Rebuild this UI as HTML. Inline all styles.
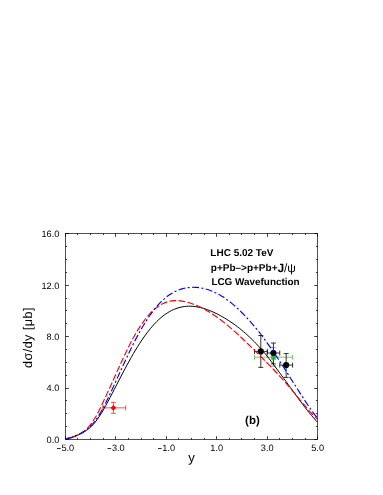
<!DOCTYPE html>
<html><head><meta charset="utf-8"><title>plot</title>
<style>html,body{margin:0;padding:0;background:#fff;}svg{display:block;will-change:transform;}text{font-family:"Liberation Sans",sans-serif;fill:#000;text-rendering:geometricPrecision;}</style>
</head><body>
<svg width="383" height="495" viewBox="0 0 383 495">
<defs><clipPath id="clip"><rect x="65.50" y="233.50" width="252.00" height="206.00"/></clipPath></defs>
<path d="M254.50,357.20H292.60M273.40,347.60V366.15M270.90,347.60h5.00M270.90,366.15h5.00M254.50,354.70v5.00M292.60,354.70v5.00" stroke="#2fb52a" stroke-width="0.70" fill="none"/>
<path d="M254.50,351.40H267.30M260.80,335.50V367.40M258.30,335.50h5.00M258.30,367.40h5.00M254.50,348.90v5.00M267.30,348.90v5.00" stroke="#000" stroke-width="0.80" fill="none"/>
<path d="M267.30,353.00H279.75M273.40,343.00V363.90M270.90,343.00h5.00M270.90,363.90h5.00M267.30,350.50v5.00M279.75,350.50v5.00" stroke="#000" stroke-width="0.80" fill="none"/>
<path d="M279.75,365.10H292.60M286.15,353.60V377.35M283.65,353.60h5.00M283.65,377.35h5.00M279.75,362.60v5.00M292.60,362.60v5.00" stroke="#000" stroke-width="0.80" fill="none"/>
<circle cx="260.80" cy="351.40" r="3.1" fill="#000"/>
<circle cx="273.40" cy="353.00" r="3.1" fill="#000"/>
<circle cx="286.15" cy="365.10" r="3.1" fill="#000"/>
<rect x="271.2" y="355.8" width="4.5" height="4.0" fill="#2fb52a"/>
<path d="M102.80,407.85H125.70M113.40,402.30V413.30M110.90,402.30h5.00M110.90,413.30h5.00M102.80,405.35v5.00M125.70,405.35v5.00" stroke="#f00" stroke-width="0.70" fill="none"/>
<path d="M113.4,404.95L116.3,407.85L113.4,410.75L110.5,407.85Z" fill="#f00"/>
<g clip-path="url(#clip)" fill="none" stroke-linecap="butt">
<path d="M65.60,439.10 C65.95,439.02 67.01,438.79 67.72,438.61 C68.43,438.44 69.13,438.25 69.84,438.04 C70.55,437.84 71.25,437.62 71.96,437.39 C72.66,437.16 73.37,436.92 74.08,436.66 C74.78,436.40 75.49,436.12 76.20,435.83 C76.90,435.54 77.61,435.24 78.32,434.92 C79.02,434.60 79.73,434.27 80.44,433.92 C81.14,433.57 81.85,433.20 82.55,432.81 C83.26,432.42 83.97,432.02 84.67,431.57 C85.38,431.13 86.09,430.67 86.79,430.16 C87.50,429.66 88.21,429.12 88.91,428.54 C89.62,427.96 90.33,427.34 91.03,426.68 C91.74,426.01 92.44,425.30 93.15,424.53 C93.86,423.76 94.56,422.94 95.27,422.06 C95.98,421.18 96.68,420.24 97.39,419.25 C98.10,418.27 98.80,417.22 99.51,416.14 C100.22,415.06 100.92,413.93 101.63,412.77 C102.34,411.61 103.04,410.40 103.75,409.17 C104.45,407.94 105.16,406.68 105.87,405.39 C106.57,404.11 107.28,402.79 107.99,401.47 C108.69,400.15 109.40,398.80 110.11,397.45 C110.81,396.10 111.52,394.73 112.23,393.37 C112.93,392.01 113.64,390.63 114.34,389.27 C115.05,387.90 115.76,386.52 116.46,385.15 C117.17,383.78 117.88,382.41 118.58,381.05 C119.29,379.68 120.00,378.32 120.70,376.96 C121.41,375.60 122.12,374.25 122.82,372.90 C123.53,371.56 124.23,370.22 124.94,368.89 C125.65,367.57 126.35,366.25 127.06,364.94 C127.77,363.64 128.47,362.34 129.18,361.07 C129.89,359.79 130.59,358.52 131.30,357.28 C132.01,356.03 132.71,354.80 133.42,353.58 C134.12,352.37 134.83,351.18 135.54,350.01 C136.24,348.83 136.95,347.68 137.66,346.55 C138.36,345.42 139.07,344.31 139.78,343.22 C140.48,342.14 141.19,341.07 141.90,340.03 C142.60,338.98 143.31,337.96 144.02,336.96 C144.72,335.96 145.43,334.99 146.13,334.03 C146.84,333.08 147.55,332.15 148.25,331.24 C148.96,330.34 149.67,329.46 150.37,328.60 C151.08,327.74 151.79,326.91 152.49,326.10 C153.20,325.29 153.91,324.51 154.61,323.75 C155.32,322.99 156.02,322.26 156.73,321.55 C157.44,320.84 158.14,320.16 158.85,319.51 C159.56,318.85 160.26,318.23 160.97,317.62 C161.68,317.02 162.38,316.45 163.09,315.90 C163.80,315.35 164.50,314.83 165.21,314.33 C165.91,313.83 166.62,313.36 167.33,312.91 C168.03,312.46 168.74,312.04 169.45,311.63 C170.15,311.23 170.86,310.86 171.57,310.51 C172.27,310.15 172.98,309.82 173.69,309.52 C174.39,309.21 175.10,308.93 175.81,308.67 C176.51,308.40 177.22,308.17 177.92,307.95 C178.63,307.73 179.34,307.53 180.04,307.36 C180.75,307.18 181.46,307.03 182.16,306.89 C182.87,306.76 183.58,306.65 184.28,306.55 C184.99,306.46 185.70,306.38 186.40,306.33 C187.11,306.27 187.81,306.23 188.52,306.22 C189.23,306.20 189.93,306.20 190.64,306.22 C191.35,306.24 192.05,306.27 192.76,306.33 C193.47,306.38 194.17,306.45 194.88,306.54 C195.59,306.62 196.29,306.73 197.00,306.85 C197.70,306.97 198.41,307.10 199.12,307.25 C199.82,307.40 200.53,307.57 201.24,307.75 C201.94,307.93 202.65,308.12 203.36,308.33 C204.06,308.54 204.77,308.76 205.48,308.99 C206.18,309.23 206.89,309.48 207.59,309.74 C208.30,310.00 209.01,310.27 209.71,310.56 C210.42,310.84 211.13,311.14 211.83,311.44 C212.54,311.75 213.25,312.07 213.95,312.40 C214.66,312.73 215.37,313.07 216.07,313.42 C216.78,313.77 217.49,314.13 218.19,314.49 C218.90,314.86 219.60,315.24 220.31,315.62 C221.02,316.01 221.72,316.40 222.43,316.81 C223.14,317.21 223.84,317.62 224.55,318.04 C225.26,318.46 225.96,318.89 226.67,319.33 C227.38,319.77 228.08,320.22 228.79,320.67 C229.49,321.13 230.20,321.60 230.91,322.08 C231.61,322.55 232.32,323.04 233.03,323.54 C233.73,324.03 234.44,324.54 235.15,325.05 C235.85,325.57 236.56,326.10 237.27,326.63 C237.97,327.17 238.68,327.72 239.38,328.28 C240.09,328.83 240.80,329.40 241.50,329.98 C242.21,330.56 242.92,331.15 243.62,331.75 C244.33,332.36 245.04,332.97 245.74,333.59 C246.45,334.22 247.16,334.85 247.86,335.50 C248.57,336.15 249.28,336.81 249.98,337.48 C250.69,338.15 251.39,338.83 252.10,339.52 C252.81,340.22 253.51,340.92 254.22,341.64 C254.93,342.36 255.63,343.09 256.34,343.84 C257.05,344.58 257.75,345.34 258.46,346.10 C259.17,346.87 259.87,347.65 260.58,348.43 C261.28,349.22 261.99,350.02 262.70,350.83 C263.40,351.64 264.11,352.44 264.82,353.29 C265.52,354.14 266.23,355.04 266.94,355.93 C267.64,356.83 268.35,357.73 269.06,358.64 C269.76,359.55 270.47,360.47 271.17,361.40 C271.88,362.33 272.59,363.26 273.29,364.20 C274.00,365.14 274.71,366.09 275.41,367.05 C276.12,368.00 276.83,368.96 277.53,369.93 C278.24,370.89 278.95,371.88 279.65,372.84 C280.36,373.80 281.06,374.75 281.77,375.70 C282.48,376.66 283.18,377.61 283.89,378.57 C284.60,379.53 285.30,380.50 286.01,381.46 C286.72,382.43 287.42,383.40 288.13,384.37 C288.84,385.35 289.54,386.32 290.25,387.30 C290.96,388.28 291.66,389.25 292.37,390.23 C293.07,391.21 293.78,392.19 294.49,393.17 C295.19,394.14 295.90,395.12 296.61,396.09 C297.31,397.06 298.02,398.03 298.73,399.00 C299.43,399.96 300.14,400.92 300.85,401.87 C301.55,402.82 302.26,403.76 302.96,404.69 C303.67,405.62 304.38,406.55 305.08,407.46 C305.79,408.38 306.50,409.28 307.20,410.18 C307.91,411.07 308.62,411.96 309.32,412.83 C310.03,413.70 310.74,414.56 311.44,415.40 C312.15,416.25 312.85,417.08 313.56,417.89 C314.27,418.71 314.97,419.51 315.68,420.29 C316.39,421.07 317.45,422.20 317.80,422.58" stroke="#000" stroke-width="1.0"/>
<path d="M65.60,439.10 C65.95,438.96 67.01,438.50 67.72,438.24 C68.43,437.98 69.13,437.77 69.84,437.55 C70.55,437.34 71.25,437.15 71.96,436.95 C72.66,436.75 73.37,436.56 74.08,436.34 C74.78,436.12 75.49,435.90 76.20,435.64 C76.90,435.38 77.61,435.09 78.32,434.79 C79.02,434.49 79.73,434.22 80.44,433.84 C81.14,433.47 81.85,433.05 82.55,432.57 C83.26,432.08 83.97,431.54 84.67,430.95 C85.38,430.36 86.09,429.73 86.79,429.02 C87.50,428.30 88.21,427.52 88.91,426.67 C89.62,425.82 90.33,424.87 91.03,423.90 C91.74,422.93 92.44,421.90 93.15,420.83 C93.86,419.76 94.56,418.64 95.27,417.47 C95.98,416.30 96.68,415.09 97.39,413.79 C98.10,412.49 98.80,411.06 99.51,409.65 C100.22,408.23 100.92,406.77 101.63,405.29 C102.34,403.81 103.04,402.27 103.75,400.75 C104.45,399.23 105.16,397.69 105.87,396.17 C106.57,394.65 107.28,393.15 107.99,391.62 C108.69,390.09 109.40,388.54 110.11,386.99 C110.81,385.44 111.52,383.87 112.23,382.30 C112.93,380.73 113.64,379.16 114.34,377.59 C115.05,376.02 115.76,374.44 116.46,372.87 C117.17,371.30 117.88,369.73 118.58,368.17 C119.29,366.61 120.00,365.05 120.70,363.51 C121.41,361.97 122.12,360.43 122.82,358.91 C123.53,357.39 124.23,355.89 124.94,354.40 C125.65,352.91 126.35,351.44 127.06,349.99 C127.77,348.54 128.47,347.11 129.18,345.70 C129.89,344.30 130.59,342.92 131.30,341.57 C132.01,340.22 132.71,338.89 133.42,337.60 C134.12,336.31 134.83,335.05 135.54,333.83 C136.24,332.60 136.95,331.41 137.66,330.26 C138.36,329.10 139.07,327.98 139.78,326.90 C140.48,325.81 141.19,324.76 141.90,323.74 C142.60,322.73 143.31,321.74 144.02,320.80 C144.72,319.85 145.43,318.93 146.13,318.05 C146.84,317.18 147.55,316.33 148.25,315.52 C148.96,314.71 149.67,313.93 150.37,313.19 C151.08,312.45 151.79,311.74 152.49,311.07 C153.20,310.39 153.91,309.75 154.61,309.15 C155.32,308.54 156.02,307.97 156.73,307.44 C157.44,306.90 158.14,306.40 158.85,305.93 C159.56,305.46 160.26,305.03 160.97,304.63 C161.68,304.23 162.38,303.86 163.09,303.52 C163.80,303.19 164.50,302.89 165.21,302.61 C165.91,302.34 166.62,302.10 167.33,301.88 C168.03,301.67 168.74,301.48 169.45,301.32 C170.15,301.17 170.86,301.04 171.57,300.93 C172.27,300.83 172.98,300.75 173.69,300.69 C174.39,300.64 175.10,300.61 175.81,300.60 C176.51,300.59 177.22,300.60 177.92,300.64 C178.63,300.67 179.34,300.73 180.04,300.81 C180.75,300.88 181.46,300.98 182.16,301.09 C182.87,301.20 183.58,301.34 184.28,301.48 C184.99,301.63 185.70,301.79 186.40,301.97 C187.11,302.15 187.81,302.35 188.52,302.55 C189.23,302.76 189.93,302.98 190.64,303.22 C191.35,303.45 192.05,303.69 192.76,303.95 C193.47,304.21 194.17,304.48 194.88,304.76 C195.59,305.04 196.29,305.33 197.00,305.63 C197.70,305.94 198.41,306.25 199.12,306.58 C199.82,306.91 200.53,307.25 201.24,307.60 C201.94,307.95 202.65,308.31 203.36,308.68 C204.06,309.05 204.77,309.43 205.48,309.82 C206.18,310.22 206.89,310.62 207.59,311.03 C208.30,311.45 209.01,311.87 209.71,312.31 C210.42,312.74 211.13,313.19 211.83,313.64 C212.54,314.10 213.25,314.56 213.95,315.04 C214.66,315.51 215.37,316.00 216.07,316.49 C216.78,316.99 217.49,317.49 218.19,318.00 C218.90,318.52 219.60,319.04 220.31,319.57 C221.02,320.10 221.72,320.64 222.43,321.19 C223.14,321.74 223.84,322.30 224.55,322.86 C225.26,323.43 225.96,324.00 226.67,324.59 C227.38,325.17 228.08,325.76 228.79,326.35 C229.49,326.95 230.20,327.55 230.91,328.16 C231.61,328.77 232.32,329.39 233.03,330.01 C233.73,330.63 234.44,331.26 235.15,331.90 C235.85,332.53 236.56,333.17 237.27,333.81 C237.97,334.46 238.68,335.11 239.38,335.76 C240.09,336.42 240.80,337.08 241.50,337.74 C242.21,338.40 242.92,339.07 243.62,339.74 C244.33,340.41 245.04,341.09 245.74,341.76 C246.45,342.44 247.16,343.12 247.86,343.81 C248.57,344.49 249.28,345.18 249.98,345.86 C250.69,346.55 251.39,347.24 252.10,347.93 C252.81,348.62 253.51,349.32 254.22,350.01 C254.93,350.71 255.63,351.40 256.34,352.10 C257.05,352.80 257.75,353.49 258.46,354.19 C259.17,354.89 259.87,355.59 260.58,356.29 C261.28,357.00 261.99,357.70 262.70,358.41 C263.40,359.12 264.11,359.83 264.82,360.54 C265.52,361.25 266.23,361.97 266.94,362.68 C267.64,363.40 268.35,364.12 269.06,364.85 C269.76,365.58 270.47,366.30 271.17,367.04 C271.88,367.77 272.59,368.51 273.29,369.25 C274.00,369.99 274.71,370.74 275.41,371.49 C276.12,372.24 276.83,372.99 277.53,373.75 C278.24,374.51 278.95,375.28 279.65,376.05 C280.36,376.82 281.06,377.60 281.77,378.38 C282.48,379.17 283.18,379.96 283.89,380.75 C284.60,381.55 285.30,382.35 286.01,383.16 C286.72,383.97 287.42,384.79 288.13,385.61 C288.84,386.43 289.54,387.27 290.25,388.10 C290.96,388.94 291.66,389.79 292.37,390.64 C293.07,391.49 293.78,392.35 294.49,393.20 C295.19,394.06 295.90,394.92 296.61,395.78 C297.31,396.64 298.02,397.50 298.73,398.35 C299.43,399.20 300.14,400.06 300.85,400.90 C301.55,401.75 302.26,402.57 302.96,403.42 C303.67,404.26 304.38,405.14 305.08,405.98 C305.79,406.82 306.50,407.66 307.20,408.48 C307.91,409.29 308.62,410.10 309.32,410.89 C310.03,411.68 310.74,412.45 311.44,413.20 C312.15,413.95 312.85,414.69 313.56,415.40 C314.27,416.11 314.97,416.80 315.68,417.47 C316.39,418.13 317.45,419.07 317.80,419.39" stroke="#f00" stroke-width="1.15" stroke-dasharray="6.8,2.3" stroke-dashoffset="2.65"/>
<path d="M65.60,439.10 C65.95,439.02 67.01,438.82 67.72,438.64 C68.43,438.47 69.13,438.27 69.84,438.05 C70.55,437.84 71.25,437.60 71.96,437.35 C72.66,437.09 73.37,436.82 74.08,436.53 C74.78,436.24 75.49,435.93 76.20,435.60 C76.90,435.28 77.61,434.94 78.32,434.59 C79.02,434.23 79.73,433.87 80.44,433.48 C81.14,433.10 81.85,432.71 82.55,432.29 C83.26,431.86 83.97,431.43 84.67,430.96 C85.38,430.48 86.09,429.99 86.79,429.45 C87.50,428.91 88.21,428.34 88.91,427.72 C89.62,427.10 90.33,426.45 91.03,425.73 C91.74,425.01 92.44,424.25 93.15,423.43 C93.86,422.60 94.56,421.72 95.27,420.77 C95.98,419.83 96.68,418.81 97.39,417.74 C98.10,416.68 98.80,415.54 99.51,414.37 C100.22,413.19 100.92,411.96 101.63,410.69 C102.34,409.42 103.04,408.10 103.75,406.75 C104.45,405.41 105.16,404.01 105.87,402.60 C106.57,401.19 107.28,399.74 107.99,398.27 C108.69,396.81 109.40,395.31 110.11,393.81 C110.81,392.31 111.52,390.78 112.23,389.25 C112.93,387.73 113.64,386.19 114.34,384.65 C115.05,383.10 115.76,381.55 116.46,380.00 C117.17,378.45 117.88,376.90 118.58,375.35 C119.29,373.79 120.00,372.24 120.70,370.69 C121.41,369.14 122.12,367.59 122.82,366.05 C123.53,364.51 124.23,362.98 124.94,361.45 C125.65,359.93 126.35,358.41 127.06,356.91 C127.77,355.41 128.47,353.91 129.18,352.44 C129.89,350.96 130.59,349.50 131.30,348.05 C132.01,346.61 132.71,345.19 133.42,343.78 C134.12,342.38 134.83,340.99 135.54,339.64 C136.24,338.28 136.95,336.94 137.66,335.63 C138.36,334.32 139.07,333.03 139.78,331.76 C140.48,330.50 141.19,329.26 141.90,328.05 C142.60,326.84 143.31,325.65 144.02,324.48 C144.72,323.32 145.43,322.19 146.13,321.08 C146.84,319.97 147.55,318.88 148.25,317.83 C148.96,316.77 149.67,315.74 150.37,314.74 C151.08,313.74 151.79,312.77 152.49,311.82 C153.20,310.88 153.91,309.96 154.61,309.08 C155.32,308.19 156.02,307.33 156.73,306.51 C157.44,305.68 158.14,304.88 158.85,304.11 C159.56,303.34 160.26,302.61 160.97,301.90 C161.68,301.19 162.38,300.52 163.09,299.87 C163.80,299.22 164.50,298.61 165.21,298.02 C165.91,297.43 166.62,296.87 167.33,296.33 C168.03,295.80 168.74,295.29 169.45,294.81 C170.15,294.33 170.86,293.88 171.57,293.45 C172.27,293.02 172.98,292.62 173.69,292.25 C174.39,291.87 175.10,291.51 175.81,291.18 C176.51,290.85 177.22,290.55 177.92,290.27 C178.63,289.98 179.34,289.72 180.04,289.48 C180.75,289.24 181.46,289.03 182.16,288.83 C182.87,288.63 183.58,288.46 184.28,288.30 C184.99,288.14 185.70,288.00 186.40,287.89 C187.11,287.77 187.81,287.67 188.52,287.59 C189.23,287.50 189.93,287.44 190.64,287.39 C191.35,287.35 192.05,287.32 192.76,287.30 C193.47,287.29 194.17,287.29 194.88,287.31 C195.59,287.34 196.29,287.37 197.00,287.43 C197.70,287.48 198.41,287.55 199.12,287.64 C199.82,287.73 200.53,287.83 201.24,287.96 C201.94,288.08 202.65,288.22 203.36,288.37 C204.06,288.53 204.77,288.70 205.48,288.89 C206.18,289.07 206.89,289.28 207.59,289.50 C208.30,289.72 209.01,289.96 209.71,290.21 C210.42,290.47 211.13,290.74 211.83,291.03 C212.54,291.31 213.25,291.62 213.95,291.94 C214.66,292.26 215.37,292.59 216.07,292.94 C216.78,293.30 217.49,293.67 218.19,294.05 C218.90,294.43 219.60,294.84 220.31,295.25 C221.02,295.67 221.72,296.10 222.43,296.55 C223.14,297.00 223.84,297.46 224.55,297.94 C225.26,298.42 225.96,298.92 226.67,299.43 C227.38,299.94 228.08,300.46 228.79,301.00 C229.49,301.54 230.20,302.10 230.91,302.67 C231.61,303.24 232.32,303.82 233.03,304.42 C233.73,305.01 234.44,305.62 235.15,306.25 C235.85,306.87 236.56,307.51 237.27,308.16 C237.97,308.81 238.68,309.48 239.38,310.15 C240.09,310.83 240.80,311.52 241.50,312.22 C242.21,312.93 242.92,313.64 243.62,314.37 C244.33,315.10 245.04,315.84 245.74,316.59 C246.45,317.34 247.16,318.10 247.86,318.88 C248.57,319.65 249.28,320.44 249.98,321.24 C250.69,322.03 251.39,322.84 252.10,323.66 C252.81,324.48 253.51,325.31 254.22,326.15 C254.93,326.99 255.63,327.84 256.34,328.71 C257.05,329.57 257.75,330.44 258.46,331.32 C259.17,332.20 259.87,333.08 260.58,333.99 C261.28,334.90 261.99,335.81 262.70,336.75 C263.40,337.69 264.11,338.66 264.82,339.63 C265.52,340.60 266.23,341.58 266.94,342.57 C267.64,343.55 268.35,344.55 269.06,345.55 C269.76,346.55 270.47,347.57 271.17,348.58 C271.88,349.60 272.59,350.63 273.29,351.66 C274.00,352.70 274.71,353.74 275.41,354.78 C276.12,355.83 276.83,356.89 277.53,357.95 C278.24,359.01 278.95,360.08 279.65,361.16 C280.36,362.24 281.06,363.32 281.77,364.42 C282.48,365.51 283.18,366.61 283.89,367.71 C284.60,368.81 285.30,369.92 286.01,371.04 C286.72,372.15 287.42,373.27 288.13,374.40 C288.84,375.52 289.54,376.66 290.25,377.77 C290.96,378.89 291.66,379.98 292.37,381.09 C293.07,382.19 293.78,383.31 294.49,384.42 C295.19,385.53 295.90,386.64 296.61,387.75 C297.31,388.85 298.02,389.96 298.73,391.07 C299.43,392.17 300.14,393.27 300.85,394.36 C301.55,395.45 302.26,396.54 302.96,397.62 C303.67,398.70 304.38,399.79 305.08,400.86 C305.79,401.93 306.50,402.99 307.20,404.04 C307.91,405.09 308.62,406.12 309.32,407.14 C310.03,408.17 310.74,409.17 311.44,410.17 C312.15,411.16 312.85,412.13 313.56,413.09 C314.27,414.04 314.97,414.98 315.68,415.90 C316.39,416.82 317.45,418.15 317.80,418.59" stroke="#00f" stroke-width="1.15" stroke-dasharray="7.0,2.35,2.05,2.38" stroke-dashoffset="13.29"/>
</g>
<g stroke="#000" stroke-width="0.68" fill="none">
<rect x="65.50" y="233.50" width="252.00" height="206.00"/>
<path d="M65.50,439.50v-3.30M65.50,233.50v3.30M77.50,439.50v-1.60M77.50,233.50v1.60M90.50,439.50v-1.60M90.50,233.50v1.60M103.50,439.50v-1.60M103.50,233.50v1.60M115.50,439.50v-3.30M115.50,233.50v3.30M128.50,439.50v-1.60M128.50,233.50v1.60M141.50,439.50v-1.60M141.50,233.50v1.60M153.50,439.50v-1.60M153.50,233.50v1.60M166.50,439.50v-3.30M166.50,233.50v3.30M178.50,439.50v-1.60M178.50,233.50v1.60M191.50,439.50v-1.60M191.50,233.50v1.60M204.50,439.50v-1.60M204.50,233.50v1.60M216.50,439.50v-3.30M216.50,233.50v3.30M229.50,439.50v-1.60M229.50,233.50v1.60M241.50,439.50v-1.60M241.50,233.50v1.60M254.50,439.50v-1.60M254.50,233.50v1.60M267.50,439.50v-3.30M267.50,233.50v3.30M279.50,439.50v-1.60M279.50,233.50v1.60M292.50,439.50v-1.60M292.50,233.50v1.60M305.50,439.50v-1.60M305.50,233.50v1.60M317.50,439.50v-3.30M317.50,233.50v3.30M65.50,439.50h3.30M317.50,439.50h-3.30M65.50,426.50h1.60M317.50,426.50h-1.60M65.50,413.50h1.60M317.50,413.50h-1.60M65.50,400.50h1.60M317.50,400.50h-1.60M65.50,388.50h3.30M317.50,388.50h-3.30M65.50,375.50h1.60M317.50,375.50h-1.60M65.50,362.50h1.60M317.50,362.50h-1.60M65.50,349.50h1.60M317.50,349.50h-1.60M65.50,336.50h3.30M317.50,336.50h-3.30M65.50,323.50h1.60M317.50,323.50h-1.60M65.50,310.50h1.60M317.50,310.50h-1.60M65.50,298.50h1.60M317.50,298.50h-1.60M65.50,285.50h3.30M317.50,285.50h-3.30M65.50,272.50h1.60M317.50,272.50h-1.60M65.50,259.50h1.60M317.50,259.50h-1.60M65.50,246.50h1.60M317.50,246.50h-1.60M65.50,233.50h3.30M317.50,233.50h-3.30" stroke-width="0.75"/>
</g>
<g font-size="9.2" text-anchor="end">
<text x="59.3" y="442.89">0.0</text>
<text x="59.3" y="391.46">4.0</text>
<text x="59.3" y="340.02">8.0</text>
<text x="59.3" y="288.59">12.0</text>
<text x="59.3" y="237.16">16.0</text>
</g>
<g font-size="9.2">
<text transform="translate(57.11,451.60) scale(0.72,1.45)" x="0" y="0">–</text>
<text x="61.41" y="450.90">5.0</text>
<text transform="translate(107.58,451.60) scale(0.72,1.45)" x="0" y="0">–</text>
<text x="111.88" y="450.90">3.0</text>
<text transform="translate(158.04,451.60) scale(0.72,1.45)" x="0" y="0">–</text>
<text x="162.34" y="450.90">1.0</text>
<text x="216.71" y="450.90" text-anchor="middle">1.0</text>
<text x="267.17" y="450.90" text-anchor="middle">3.0</text>
<text x="317.64" y="450.90" text-anchor="middle">5.0</text>
</g>
<text x="191.6" y="461.5" font-size="13.2" text-anchor="middle">y</text>
<text transform="translate(31.6,337.8) rotate(-90)" font-size="12.6" text-anchor="middle" textLength="60.4" lengthAdjust="spacing">dσ/dy [μb]</text>
<g font-size="10" font-weight="bold">
<text x="210.3" y="256.1">LHC 5.02 TeV</text>
<text x="210.8" y="271.1">p+Pb–&gt;p+Pb+</text>
<text x="277.6" y="272.3" font-size="12">J</text>
<text x="283.9" y="272.3" font-size="12" font-weight="normal">/ψ</text>
<text x="211.4" y="285.4" font-size="9.92">LCG Wavefunction</text>
</g>
<text x="245.1" y="423.5" font-size="11.5" font-weight="bold">(b)</text>
</svg>
</body></html>
